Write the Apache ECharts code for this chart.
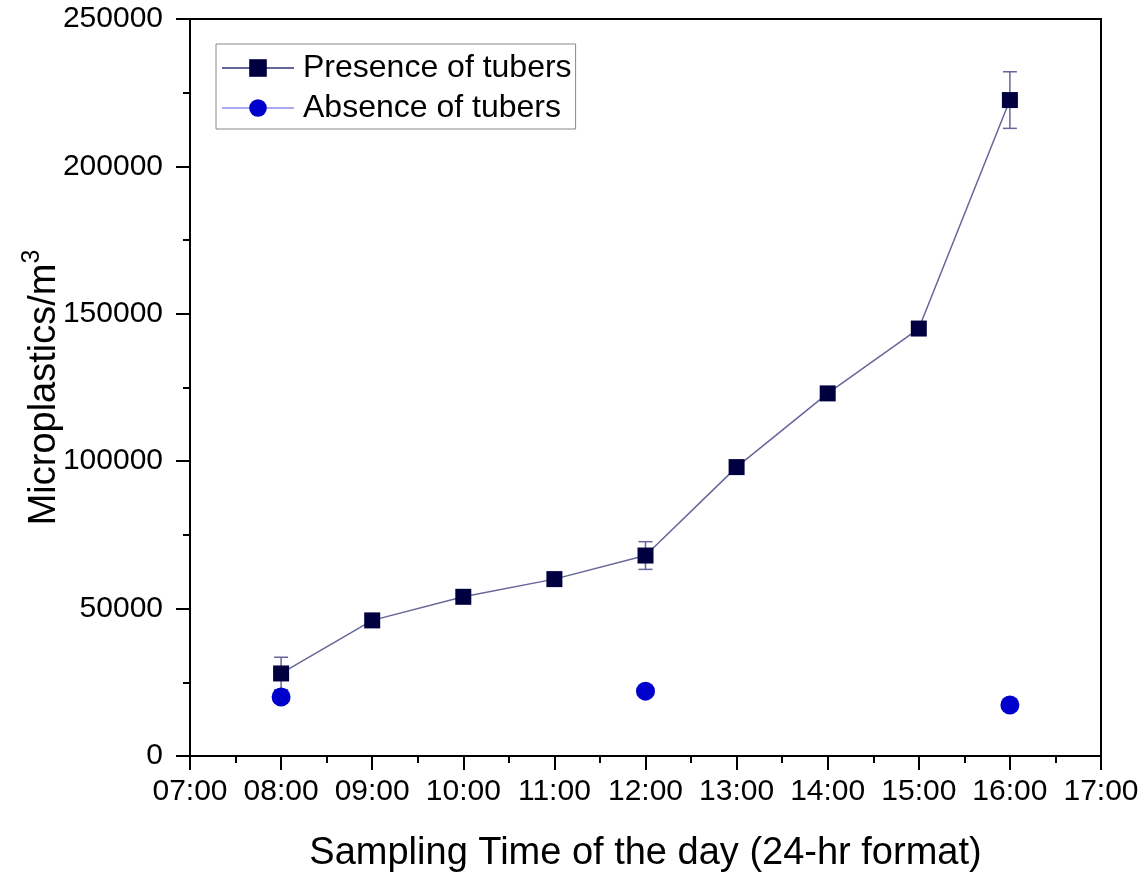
<!DOCTYPE html>
<html>
<head>
<meta charset="utf-8">
<script src="https://cdn.jsdelivr.net/npm/echarts@6/dist/echarts.min.js"></script>
<style>html,body{margin:0;padding:0;background:#fff}#c{width:1148px;height:873px}</style>
</head>
<body>
<div id="c"></div>
<script>
// Sampling hours (24-hr clock)
const presenceHours = [8, 9, 10, 11, 12, 13, 14, 15, 16];
const presenceValues = [28000, 46000, 54000, 60000, 68000, 98000, 123000, 145000, 222500];
// Error bar half-widths (0 = no bar shown)
const presenceErrors = [5500, 0, 0, 0, 4700, 0, 0, 0, 9600];
const absenceHours = [8, 12, 16];
const absenceValues = [20000, 22000, 17300];

const fontFamily = '"Liberation Sans", Arial, sans-serif';
const lineColor = '#66669a';

const errorData = presenceHours
  .map((h, i) => [h, presenceValues[i] - presenceErrors[i], presenceValues[i] + presenceErrors[i]])
  .filter((d, i) => presenceErrors[i] > 0);

const chart = echarts.init(document.getElementById('c'));
chart.setOption({
  backgroundColor: '#fff',
  animation: false,
  grid: {
    left: 190, right: 47, top: 19, bottom: 117,
    outerBoundsMode: 'none', containLabel: false,
    show: true, borderColor: '#000', borderWidth: 2, backgroundColor: 'transparent'
  },
  legend: {
    left: 216, top: 44, orient: 'vertical',
    itemWidth: 72, itemHeight: 22, itemGap: 8,
    padding: [8, 4, 5, 5],
    borderColor: '#888', borderWidth: 1,
    textStyle: { fontFamily, fontSize: 32, lineHeight: 32, color: '#000', padding: [0, 0, 0, 4] },
    data: [
      { name: 'Presence of tubers' },
      { name: 'Absence of tubers', lineStyle: { opacity: 1, color: '#8c8cf0', width: 1.5 } }
    ]
  },
  xAxis: {
    type: 'value', min: 7, max: 17, interval: 1,
    name: 'Sampling Time of the day (24-hr format)',
    nameLocation: 'middle', nameGap: 79, nameMoveOverlap: false,
    nameTextStyle: { fontFamily, fontSize: 38, color: '#000' },
    axisLine: { lineStyle: { color: '#000', width: 2 } },
    axisTick: { inside: false, length: 14, lineStyle: { color: '#000', width: 2 } },
    minorTick: { show: true, splitNumber: 2, length: 7, lineStyle: { color: '#000', width: 2 } },
    splitLine: { show: false },
    axisLabel: {
      fontFamily, fontSize: 30, color: '#000', margin: 21,
      formatter: v => String(v).padStart(2, '0') + ':00'
    }
  },
  yAxis: {
    type: 'value', min: 0, max: 250000, interval: 50000,
    name: '{a|Microplastics/m}{s|3}',
    nameLocation: 'middle', nameGap: 126, nameRotate: 90, nameMoveOverlap: false,
    nameTextStyle: {
      rich: {
        a: { fontFamily, fontSize: 38, color: '#000', lineHeight: 44, verticalAlign: 'bottom' },
        s: { fontFamily, fontSize: 25, color: '#000', lineHeight: 44, verticalAlign: 'top' }
      }
    },
    axisLine: { lineStyle: { color: '#000', width: 2 } },
    axisTick: { inside: false, length: 14, lineStyle: { color: '#000', width: 2 } },
    minorTick: { show: true, splitNumber: 2, length: 7, lineStyle: { color: '#000', width: 2 } },
    splitLine: { show: false },
    axisLabel: { fontFamily, fontSize: 30, color: '#000', margin: 27, formatter: v => String(v) }
  },
  series: [
    {
      name: 'Error',
      type: 'custom',
      data: errorData,
      z: 1,
      renderItem: (params, api) => {
        const x = api.value(0);
        const lo = api.coord([x, api.value(1)]);
        const hi = api.coord([x, api.value(2)]);
        const w = 7;
        const style = { stroke: lineColor, lineWidth: 1.5, fill: null };
        return {
          type: 'group',
          children: [
            { type: 'line', shape: { x1: hi[0], y1: hi[1], x2: lo[0], y2: lo[1] }, style },
            { type: 'line', shape: { x1: hi[0] - w, y1: hi[1], x2: hi[0] + w, y2: hi[1] }, style },
            { type: 'line', shape: { x1: lo[0] - w, y1: lo[1], x2: lo[0] + w, y2: lo[1] }, style }
          ]
        };
      }
    },
    {
      name: 'Presence of tubers',
      type: 'line',
      data: presenceHours.map((h, i) => [h, presenceValues[i]]),
      symbol: 'rect', symbolSize: 16,
      itemStyle: { color: '#000040' },
      lineStyle: { color: lineColor, width: 1.5 },
      z: 3
    },
    {
      name: 'Absence of tubers',
      type: 'line',
      data: absenceHours.map((h, i) => [h, absenceValues[i]]),
      symbol: 'circle', symbolSize: 19,
      itemStyle: { color: '#0000cc' },
      lineStyle: { color: '#8c8cf0', width: 1.5, opacity: 0 },
      emphasis: { disabled: true },
      z: 3
    }
  ]
});
</script>
</body>
</html>
